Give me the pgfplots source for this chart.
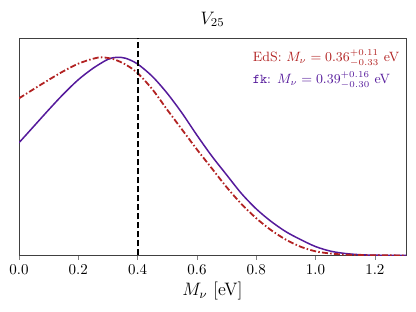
\documentclass[border=0pt]{standalone}
\usepackage{pgfplots}
\pgfplotsset{compat=1.18}
\definecolor{edsred}{RGB}{178,34,34}
\definecolor{fkpurple}{RGB}{85,26,155}
\begin{document}
\begin{tikzpicture}
\path[use as bounding box] (-12.67pt,-37.67pt) rectangle (264.67pt,170.33pt);
\begin{axis}[
  at={(0pt,0pt)}, anchor=origin,
  scale only axis,
  width=258pt, height=144.8pt,
  xmin=0, xmax=1.305, ymin=0, ymax=1.096,
  xtick={0,0.2,...,1.2},
  xticklabel style={/pgf/number format/.cd,fixed,fixed zerofill,precision=1},
  ytick=\empty,
  tick align=outside,
  xtick pos=bottom,
  major tick length=3pt,
  axis line style={black!75, line width=0.6pt},
  title={$V_{25}$},
  title style={font=\large, yshift=-2pt},
  xlabel={$M_\nu$ [eV]},
  xlabel style={font=\large, yshift=2pt},
]
\addplot[fkpurple, line width=1pt, smooth] coordinates {
(0,0.569) (0.05,0.652) (0.10,0.735) (0.15,0.815) (0.20,0.887) (0.25,0.945) (0.30,0.99) (0.33,1.0)
(0.36,0.995) (0.40,0.966) (0.45,0.903) (0.50,0.818) (0.55,0.718) (0.60,0.607) (0.65,0.502) (0.70,0.407)
(0.75,0.313) (0.80,0.235) (0.85,0.172) (0.90,0.12) (0.95,0.080) (1.00,0.045) (1.05,0.022)
(1.10,0.010) (1.15,0.004) (1.20,0.0015) (1.305,0.0003)
};
\addplot[edsred, line width=1.2pt, smooth, dash pattern=on 4pt off 1.5pt on 1pt off 1.5pt] coordinates {
(0,0.793) (0.05,0.84) (0.10,0.886) (0.15,0.93) (0.20,0.968) (0.25,0.993) (0.28,1.0) (0.32,0.99)
(0.36,0.963) (0.40,0.92) (0.45,0.838) (0.50,0.735) (0.55,0.635) (0.60,0.535) (0.65,0.44) (0.70,0.345)
(0.75,0.26) (0.80,0.188) (0.85,0.128) (0.90,0.08) (0.95,0.044) (1.00,0.021) (1.05,0.010)
(1.10,0.0045) (1.15,0.002) (1.20,0.001) (1.305,0.0002)
};
\addplot[black, line width=1.2pt, dash pattern=on 4pt off 2pt] coordinates {(0.4,0) (0.4,1.096)};
\node[anchor=west, inner sep=0pt, text=edsred, font=\small] at (axis cs:0.788,0.996) {EdS: $M_\nu = 0.36^{+0.11}_{-0.33}$ eV};
\node[anchor=west, inner sep=0pt, text=fkpurple, font=\small] at (axis cs:0.788,0.885) {\texttt{fk}: $M_\nu = 0.39^{+0.16}_{-0.30}$ eV};
\end{axis}
\end{tikzpicture}
\end{document}
